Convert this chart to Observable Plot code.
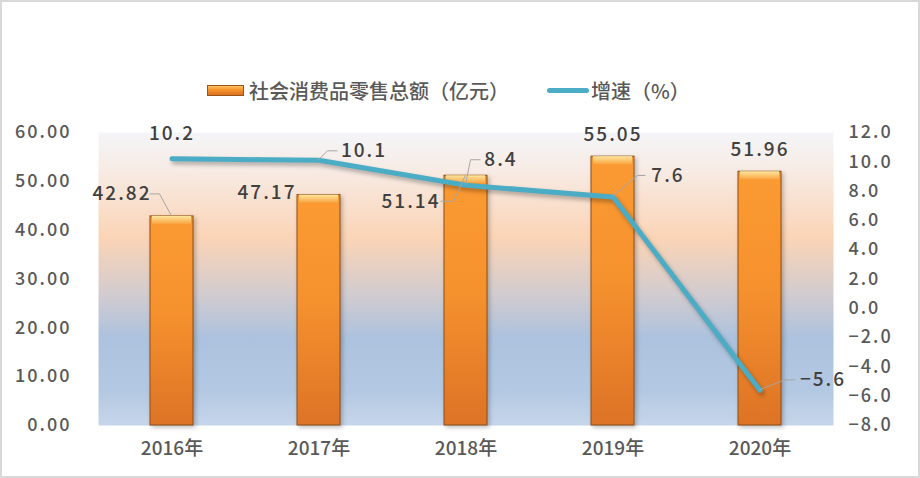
<!DOCTYPE html>
<html>
<head>
<meta charset="utf-8">
<script src="https://cdn.jsdelivr.net/npm/d3@7"></script>
<script src="https://cdn.jsdelivr.net/npm/@observablehq/plot@0.6"></script>
<style>
  html, body { margin: 0; padding: 0; background: #fff; }
  #wrap { position: relative; width: 916px; height: 474px; border: 2px solid #d9d9d9; background: #fff; overflow: hidden; }
  #legend { position: absolute; top: 74px; left: 205px; display: flex; align-items: center; white-space: nowrap;
    font-family: "Noto Sans CJK SC", sans-serif; font-size: 20px; color: #595959; font-weight: 500; }
  .sw-bar { display: inline-block; width: 37px; height: 11px; margin-right: 5px;
    background: linear-gradient(#fbc060, #f7962e 40%, #d9701f); border: 1px solid #9a5516; box-sizing: border-box; }
  .sw-line { display: inline-block; width: 42px; height: 5px; border-radius: 3px; background: #4bacc6; margin-right: 2px; margin-left: 38px; }
  #chart { position: absolute; top: 108px; left: 0; }
  #chart svg { overflow: visible; }
  .lineShadow { filter: drop-shadow(2px 3px 2px rgba(0,0,0,0.3)); }
  .barShadow { filter: drop-shadow(2px 2px 2px rgba(0,0,0,0.25)); }
  .num text, .num { letter-spacing: 2px; }
  .numAxis text { letter-spacing: 2px; }
</style>
</head>
<body>
<div id="wrap">
  <div id="legend">
    <span class="sw-bar"></span><span>社会消费品零售总额（亿元）</span>
    <span class="sw-line"></span><span>增速（%）</span>
  </div>
  <div id="chart"></div>
</div>
<script>
const years = ["2016年", "2017年", "2018年", "2019年", "2020年"];
const sales = [42.82, 47.17, 51.14, 55.05, 51.96];
const growth = [10.2, 10.1, 8.4, 7.6, -5.6];
const leftTicks = [0, 10, 20, 30, 40, 50, 60];
const rightTicks = [-8, -6, -4, -2, 0, 2, 4, 6, 8, 10, 12];

// map growth (right axis, -8..12) onto left scale (0..60)
const rMin = -8, rMax = 12, lMax = 60;
const toLeft = v => (v - rMin) / (rMax - rMin) * lMax;
const fromLeft = t => t / lMax * (rMax - rMin) + rMin;
const fmtMinus = s => s.replace("-", "−");

const data = years.map((y, i) => ({year: y, sales: sales[i], growth: growth[i], g: toLeft(growth[i])}));

const numFont = "Noto Sans CJK SC";
const labelStyle = {fontSize: 19, fill: "#404040", fontFamily: numFont, fontWeight: 500, className: "num"};

// per-label placement offsets (styling)
const barLabelPos = [
  {dx: -50, dy: -22, leader: [[28, 0], [38, 0]]},
  {dx: -52, dy: -2, leader: null},
  {dx: -55, dy: 26, leader: [[30, 0], [43, 0]]},
  {dx: 0, dy: -22, leader: null},
  {dx: 0, dy: -22, leader: null}
];
const lineLabelPos = [
  {dx: 0, dy: -25, leader: null},
  {dx: 45, dy: -9, leader: [[-26, 0], [-36, 0]]},
  {dx: 35, dy: -25, leader: [[-20, 0], [-30, 0]]},
  {dx: 55, dy: -21, leader: [[-22, 0], [-30, 0]]},
  {dx: 63, dy: -10, leader: [[-27, 0], [-38, 0]]}
];

function leaders(valueKey, positions) {
  return (index, scales, channels, dimensions, context) => {
    const g = d3.create("svg:g");
    const bw = scales.x.bandwidth();
    data.forEach((d, i) => {
      const p = positions[i];
      if (!p.leader) return;
      const px = scales.x(d.year) + bw / 2;
      const py = scales.y(d[valueKey]);
      const lx = px + p.dx, ly = py + p.dy;
      const pts = [[lx + p.leader[0][0], ly + p.leader[0][1]], [lx + p.leader[1][0], ly + p.leader[1][1]], [px, py]];
      g.append("path").attr("d", d3.line()(pts)).attr("fill", "none").attr("stroke", "#a6a6a6").attr("stroke-width", 1);
    });
    return g.node();
  };
}

const chart = Plot.plot({
  width: 916,
  height: 362,
  marginTop: 22,
  marginBottom: 47,
  marginLeft: 96,
  marginRight: 85,
  style: {fontFamily: numFont, background: "transparent", overflow: "visible"},
  x: {domain: years, paddingInner: 0.71, paddingOuter: 0.355, axis: null},
  y: {domain: [0, 60], axis: null},
  marks: [
    Plot.frame({fill: "url(#bgGrad)", stroke: null}),
    Plot.axisX({tickSize: 0, tickPadding: 16, fontSize: 19, fill: "#595959", fontFamily: numFont, fontWeight: 500, label: null}),
    Plot.axisY({ticks: leftTicks, tickSize: 0, tickPadding: 27, fontSize: 18, fill: "#595959", label: null, className: "numAxis",
      tickFormat: d => d3.format(".2f")(d), fontFamily: numFont, fontWeight: 500}),
    Plot.axisY({anchor: "right", ticks: rightTicks.map(toLeft), tickSize: 0, tickPadding: 15, fontSize: 18, fill: "#595959", label: null, className: "numAxis",
      tickFormat: t => fmtMinus(d3.format(".1f")(Math.round(fromLeft(t) * 10) / 10)), fontFamily: numFont, fontWeight: 500, textAnchor: "start"}),
    Plot.barY(data, {x: "year", y: "sales", fill: "url(#barGrad)", stroke: "#8f4e14", strokeWidth: 1, className: "barShadow"}),
    Plot.barY(data, {x: "year", y1: "sales", y2: "sales", insetBottom: -8, insetLeft: 2, insetRight: 2, fill: "url(#bevelGrad)"}),
    Plot.line(data, {x: "year", y: "g", stroke: "#4bacc6", strokeWidth: 5, className: "lineShadow"}),
    leaders("sales", barLabelPos),
    leaders("g", lineLabelPos),
    ...data.map((d, i) => Plot.text([d], {x: "year", y: "sales", text: d => d3.format(".2f")(d.sales),
      dx: barLabelPos[i].dx, dy: barLabelPos[i].dy, ...labelStyle})),
    ...data.map((d, i) => Plot.text([d], {x: "year", y: "g", text: d => fmtMinus(String(d.growth)),
      dx: lineLabelPos[i].dx, dy: lineLabelPos[i].dy, ...labelStyle}))
  ]
});

const defs = d3.select(chart).insert("defs", ":first-child");
const bg = defs.append("linearGradient").attr("id", "bgGrad").attr("x1", 0).attr("y1", 0).attr("x2", 0).attr("y2", 1);
[[0, "#f4f5f8"], [0.12, "#f7ece6"], [0.36, "#fbd4b6"], [0.55, "#d2cccf"], [0.7, "#adc2de"], [0.88, "#b3c8e2"], [1, "#c6d6ea"]]
  .forEach(([o, c]) => bg.append("stop").attr("offset", o).attr("stop-color", c));
const bar = defs.append("linearGradient").attr("id", "barGrad").attr("x1", 0).attr("y1", 0).attr("x2", 0).attr("y2", 1);
[[0, "#fb9a32"], [0.45, "#f6922e"], [1, "#dd7326"]].forEach(([o, c]) => bar.append("stop").attr("offset", o).attr("stop-color", c));
const bev = defs.append("linearGradient").attr("id", "bevelGrad").attr("x1", 0).attr("y1", 0).attr("x2", 0).attr("y2", 1);
[[0, "#fee6a0"], [1, "#f9a540"]].forEach(([o, c]) => bev.append("stop").attr("offset", o).attr("stop-color", c));

document.getElementById("chart").appendChild(chart);
</script>
</body>
</html>
